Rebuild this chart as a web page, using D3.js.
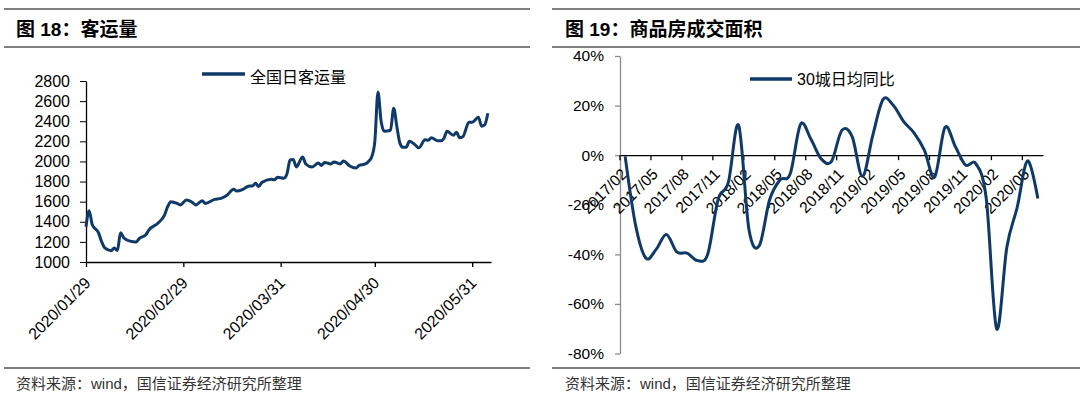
<!DOCTYPE html>
<html>
<head>
<meta charset="utf-8">
<script src="https://cdn.jsdelivr.net/npm/d3@7"></script>
<style>
  body { margin: 0; background: #fff; }
  svg { display: block; font-family: "Liberation Sans", Arial, "Noto Sans CJK SC", sans-serif; }
</style>
</head>
<body>
<svg id="chart" width="1080" height="394"></svg>
<script>
// ---- data: 图18 客运量 (全国日客运量) ----
const paxDates = [
  "2020/01/29","2020/01/30","2020/01/31","2020/02/02","2020/02/03","2020/02/04","2020/02/06","2020/02/07",
  "2020/02/08","2020/02/09","2020/02/10","2020/02/12","2020/02/14","2020/02/15","2020/02/17","2020/02/18",
  "2020/02/21","2020/02/23","2020/02/24","2020/02/25","2020/02/27","2020/02/28","2020/03/01","2020/03/03",
  "2020/03/04","2020/03/06","2020/03/07","2020/03/10","2020/03/12","2020/03/14","2020/03/16","2020/03/17",
  "2020/03/19","2020/03/21","2020/03/22","2020/03/23","2020/03/24","2020/03/25","2020/03/28","2020/03/29",
  "2020/03/30","2020/04/01","2020/04/02","2020/04/03","2020/04/04","2020/04/05","2020/04/07","2020/04/08",
  "2020/04/10","2020/04/12","2020/04/13","2020/04/14","2020/04/16","2020/04/17","2020/04/19","2020/04/20",
  "2020/04/22","2020/04/24","2020/04/25","2020/04/27","2020/04/28","2020/04/29","2020/04/30","2020/05/01",
  "2020/05/02","2020/05/03","2020/05/05","2020/05/06","2020/05/07","2020/05/08","2020/05/09","2020/05/10",
  "2020/05/11","2020/05/13","2020/05/14","2020/05/16","2020/05/17","2020/05/18","2020/05/20","2020/05/21",
  "2020/05/22","2020/05/23","2020/05/25","2020/05/26","2020/05/27","2020/05/28","2020/05/30","2020/05/31",
  "2020/06/02","2020/06/03","2020/06/04","2020/06/05"
];
const paxValues = [
  1350,1510,1370,1290,1200,1140,1112,1140,
  1115,1290,1242,1208,1200,1235,1268,1318,
  1388,1467,1550,1600,1583,1567,1617,1590,
  1567,1610,1583,1623,1633,1667,1723,1705,
  1723,1756,1756,1783,1750,1790,1823,1817,
  1843,1833,1875,2015,2020,1945,2045,1975,
  1945,1985,1960,1990,1975,1995,1975,2005,
  1955,1935,1960,1975,2000,2045,2200,2690,
  2400,2300,2310,2530,2350,2180,2140,2140,
  2200,2160,2135,2215,2210,2235,2205,2205,
  2230,2300,2260,2290,2235,2245,2390,2390,
  2440,2350,2365,2480
];
const paxTicksX = ["2020/01/29","2020/02/29","2020/03/31","2020/04/30","2020/05/31"];
const paxTicksY = [1000,1200,1400,1600,1800,2000,2200,2400,2600,2800];

// ---- data: 图19 商品房成交面积 (30城日均同比, %) ----
const months = [
  "2017/02","2017/03","2017/04","2017/05","2017/06","2017/07","2017/08","2017/09","2017/10","2017/11",
  "2017/12","2018/01","2018/02","2018/03","2018/04","2018/05","2018/06","2018/07","2018/08","2018/09",
  "2018/10","2018/11","2018/12","2019/01","2019/02","2019/03","2019/04","2019/05","2019/06","2019/07",
  "2019/08","2019/09","2019/10","2019/11","2019/12","2020/01","2020/02","2020/03","2020/04","2020/05",
  "2020/06"
];
const yoyValues = [
  -0.5,-28,-41.5,-38,-32,-39,-39.5,-42.5,-40,-18,
  -11,12,-30,-36.5,-18,-10,-7.5,12.5,6.5,-1.5,
  -2.5,10,7.5,-8.5,8,22.5,20,13.5,9,2,
  -8.8,11.2,3.5,-4,-3.5,-17.5,-70,-37,-21,-2.3,
  -17.5
];
const yoyTicksY = [-80,-60,-40,-20,0,20,40];

const lineColor = "#0f3a68";
const ruleColor = "#808080";
const parse = d3.timeParse("%Y/%m/%d");

const svg = d3.select("#chart");

// ---- panel frames: rules, titles, sources ----
function frame(x0, x1, title, tx) {
  [9, 47, 368].forEach(function (y) {
    svg.append("line")
      .attr("x1", x0).attr("x2", x1)
      .attr("y1", y).attr("y2", y)
      .attr("stroke", ruleColor)
      .attr("stroke-width", 2);
  });
  svg.append("text")
    .attr("x", tx).attr("y", 36)
    .attr("font-size", 19)
    .attr("font-weight", "bold")
    .attr("fill", "#000")
    .text(title);
  svg.append("text")
    .attr("x", tx).attr("y", 389)
    .attr("font-size", 15)
    .attr("fill", "#333")
    .text("资料来源：wind，国信证券经济研究所整理");
}
frame(4, 530, "图 18：客运量", 16);
frame(552, 1080, "图 19：商品房成交面积", 565);

// ---- left chart ----
const pax = paxDates.map(function (d, i) { return { date: parse(d), value: paxValues[i] }; });

const xL = d3.scaleTime()
  .domain([parse("2020/01/29"), parse("2020/06/06")])
  .range([86, 491]);
const yL = d3.scaleLinear().domain([1000, 2800]).range([262, 81]);

const gyL = svg.append("g")
  .attr("transform", "translate(86,0)")
  .call(d3.axisLeft(yL).tickValues(paxTicksY).tickSize(6).tickSizeOuter(0).tickPadding(10)
    .tickFormat(d3.format("d")));
gyL.selectAll("text").attr("font-size", 16).attr("fill", "#000").attr("font-family", null);
gyL.selectAll("line,path").attr("stroke", "#000");
gyL.select("path").attr("stroke-width", 1.3);

const gxL = svg.append("g")
  .attr("transform", "translate(0,262)")
  .call(d3.axisBottom(xL).tickValues(paxTicksX.map(parse)).tickSize(5).tickSizeOuter(0)
    .tickFormat(d3.timeFormat("%Y/%m/%d")));
gxL.selectAll("line,path").attr("stroke", "#000").attr("stroke-width", 1.3);
gxL.selectAll("text")
  .attr("font-size", 16).attr("fill", "#000").attr("font-family", null)
  .attr("x", 5).attr("y", 22).attr("dy", null)
  .attr("text-anchor", "end")
  .attr("transform", "rotate(-45,5,22)");

svg.append("path")
  .datum(pax)
  .attr("fill", "none")
  .attr("stroke", lineColor)
  .attr("stroke-width", 3)
  .attr("stroke-linejoin", "round")
  .attr("d", d3.line()
    .x(function (d) { return xL(d.date); })
    .y(function (d) { return yL(d.value); })
    .curve(d3.curveMonotoneX));

svg.append("line")
  .attr("x1", 202).attr("x2", 245).attr("y1", 74).attr("y2", 74)
  .attr("stroke", lineColor).attr("stroke-width", 3.5);
svg.append("text")
  .attr("x", 250).attr("y", 83)
  .attr("font-size", 16).attr("fill", "#000")
  .text("全国日客运量");

// ---- right chart ----
const xR = d3.scaleBand().domain(months).range([620, 1043]).padding(0);
const yR = d3.scaleLinear().domain([-80, 40]).range([353.5, 56]);

const gyR = svg.append("g")
  .attr("transform", "translate(620,0)")
  .call(d3.axisLeft(yR).tickValues(yoyTicksY).tickSize(5).tickSizeOuter(0).tickPadding(11)
    .tickFormat(function (d) { return d + "%"; }));
gyR.selectAll("line,path").attr("stroke", "#8c8c8c").attr("stroke-width", 1.3);
gyR.selectAll("text").attr("font-size", 15.5).attr("fill", "#000").attr("font-family", null);

const tickMonths = months.filter(function (m, i) { return i % 3 === 0; });
const gxR = svg.append("g")
  .attr("transform", "translate(0," + yR(0) + ")")
  .call(d3.axisBottom(xR).tickValues(tickMonths).tickSize(5).tickSizeOuter(0));
gxR.selectAll(".tick").attr("transform", function (d) { return "translate(" + xR(d) + ",0)"; });
gxR.selectAll("line,path").attr("stroke", "#000").attr("stroke-width", 1.3);
gxR.selectAll("text")
  .attr("font-size", 15.5).attr("fill", "#000").attr("font-family", null)
  .attr("x", 8).attr("y", 20).attr("dy", null)
  .attr("text-anchor", "end")
  .attr("transform", "rotate(-45,8,20)");

svg.append("path")
  .datum(yoyValues)
  .attr("fill", "none")
  .attr("stroke", lineColor)
  .attr("stroke-width", 3)
  .attr("stroke-linejoin", "round")
  .attr("d", d3.line()
    .x(function (d, i) { return xR(months[i]) + xR.bandwidth() / 2; })
    .y(function (d) { return yR(d); })
    .curve(d3.curveCardinal.tension(0)));

svg.append("line")
  .attr("x1", 750).attr("x2", 792).attr("y1", 79).attr("y2", 79)
  .attr("stroke", lineColor).attr("stroke-width", 3.5);
svg.append("text")
  .attr("x", 797).attr("y", 85)
  .attr("font-size", 16).attr("fill", "#000")
  .text("30城日均同比");
</script>
</body>
</html>
